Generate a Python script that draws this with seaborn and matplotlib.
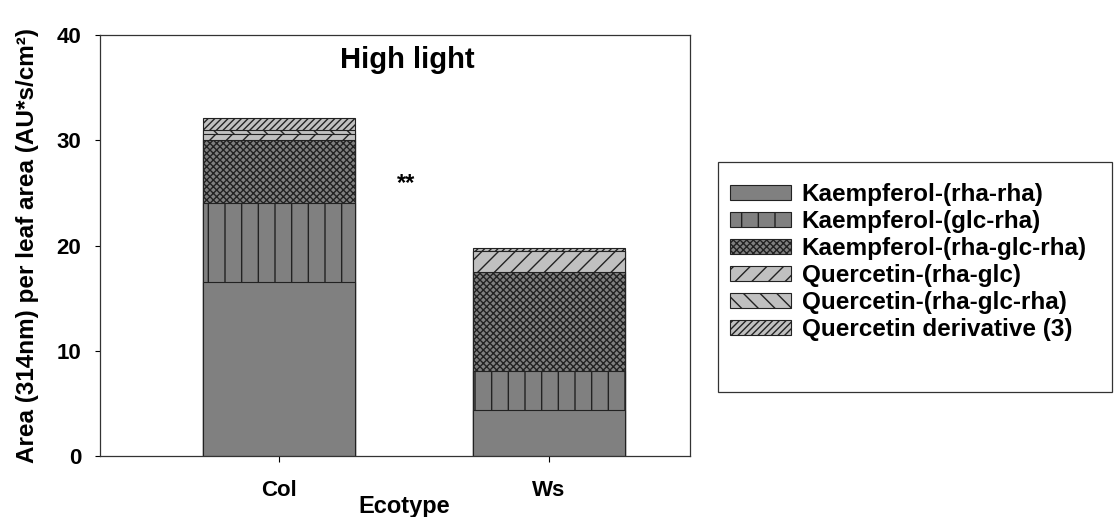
import matplotlib
matplotlib.use("Agg")
import matplotlib.pyplot as plt
from matplotlib.patches import Patch, Rectangle
import numpy as np
import pandas as pd
import seaborn as sns

# ---- data ----
ecotypes = ["Col", "Ws"]
series_names = [
    "Kaempferol-(rha-rha)",
    "Kaempferol-(glc-rha)",
    "Kaempferol-(rha-glc-rha)",
    "Quercetin-(rha-glc)",
    "Quercetin-(rha-glc-rha)",
    "Quercetin derivative (3)",
]
kaempferol_rha_rha = [16.5, 4.4]
kaempferol_glc_rha = [7.5, 3.7]
kaempferol_rha_glc_rha = [6.0, 9.4]
quercetin_rha_glc = [0.6, 2.0]
quercetin_rha_glc_rha = [0.4, 0.0]
quercetin_derivative_3 = [1.1, 0.3]
y_ticks = [0, 10, 20, 30, 40]

series = [kaempferol_rha_rha, kaempferol_glc_rha, kaempferol_rha_glc_rha,
          quercetin_rha_glc, quercetin_rha_glc_rha, quercetin_derivative_3]

# ---- styles ----
colors = ["#808080", "#808080", "#808080", "#c0c0c0", "#c0c0c0", "#c0c0c0"]
hatches = [None, "|", "xxxxx", "//", "\\\\", "/////"]

sns.set_theme(style="white")
plt.rcParams["font.family"] = ["Liberation Sans", "DejaVu Sans"]
plt.rcParams["font.weight"] = "bold"
plt.rcParams["hatch.linewidth"] = 1.0
plt.rcParams["hatch.color"] = "black"
for k in ["text.color", "axes.labelcolor", "xtick.color", "ytick.color",
          "xtick.labelcolor", "ytick.labelcolor"]:
    plt.rcParams[k] = "black"

fig = plt.figure(figsize=(11.15, 5.17), dpi=100)
ax = fig.add_axes([0.0897, 0.118, 0.529, 0.814])

cum = np.cumsum(np.array(series), axis=0)
# draw from top layer down so lower layers cover upper ones
for i in range(len(series) - 1, -1, -1):
    df = pd.DataFrame({"Ecotype": ecotypes, "value": cum[i]})
    sns.barplot(data=df, x="Ecotype", y="value", color=colors[i], saturation=1,
                width=0.563, hatch=hatches[i], edgecolor="#222222", linewidth=0.8,
                ax=ax, zorder=2)

ax.set_xlim(-0.663, 1.522)
ax.set_ylim(0, 40)
ax.set_yticks(y_ticks)
ax.set_yticklabels([str(t) for t in y_ticks], fontsize=16, fontweight="bold")
ax.set_xticks([0, 1])
ax.set_xticklabels(ecotypes, fontsize=16, fontweight="bold")
ax.tick_params(axis="y", direction="out", length=3.5, width=0.8, color="black",
               left=True, pad=10)
ax.tick_params(axis="x", direction="out", length=4, width=0.8, color="black",
               bottom=True, pad=13)
ax.set_xlabel("Ecotype", fontsize=17, fontweight="bold")
ax.xaxis.set_label_coords(0.515, -0.093)
ax.set_ylabel("Area (314nm) per leaf area (AU*s/cm²)", fontsize=17.5,
              fontweight="bold")
ax.yaxis.set_label_coords(-0.103, 0.501)
for s in ax.spines.values():
    s.set_visible(True)
    s.set_color("#333333")
    s.set_linewidth(0.9)

ax.text(0.474, 36.9, "High light", ha="center", va="baseline", fontsize=21,
        fontweight="bold")
ax.text(0.47, 27.0, "**", ha="center", va="top", fontsize=17,
        fontweight="bold")

# legend frame
fig.add_artist(Rectangle((718 / 1115, 1 - 392 / 517), (1112 - 718) / 1115,
                         (392 - 162) / 517, transform=fig.transFigure,
                         facecolor="white", edgecolor="#333333", linewidth=0.9,
                         zorder=1))
handles = [Patch(facecolor=colors[i], hatch=hatches[i], edgecolor="#222222",
                 linewidth=0.8, label=series_names[i]) for i in range(len(series))]
leg = fig.legend(handles=handles, loc="center left",
                 bbox_to_anchor=(730 / 1115, 1 - 262 / 517), frameon=False,
                 prop={"size": 17.5, "weight": "bold"},
                 handlelength=2.5, handleheight=0.57, labelspacing=0.17,
                 borderpad=0.0, borderaxespad=0.0, handletextpad=0.45)
leg.set_zorder(3)

fig.savefig("out.png", dpi=100)
